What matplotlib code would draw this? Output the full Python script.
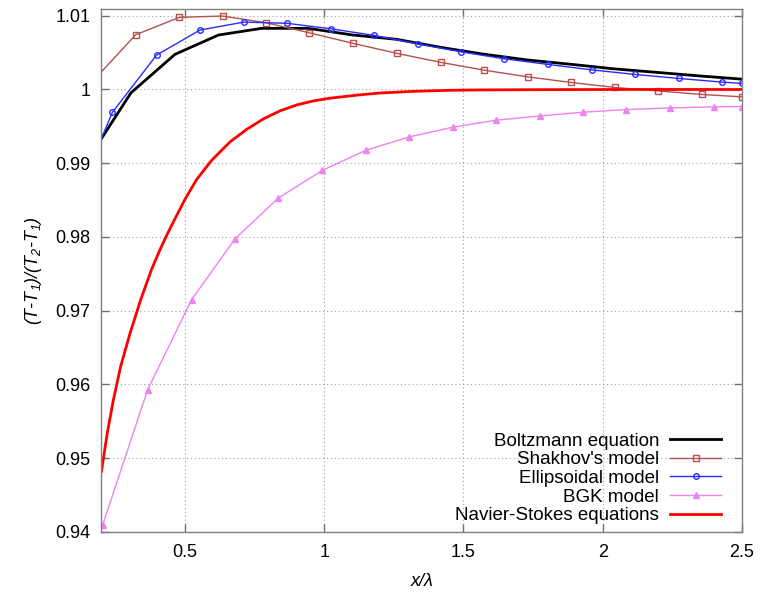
import numpy as np
import matplotlib
matplotlib.use("Agg")
import matplotlib.pyplot as plt
from matplotlib.ticker import FuncFormatter

plt.rcParams['font.family'] = ['Liberation Sans', 'DejaVu Sans']
plt.rcParams['mathtext.fontset'] = 'custom'
plt.rcParams['mathtext.rm'] = 'Liberation Sans:italic'
plt.rcParams['mathtext.it'] = 'Liberation Sans:italic'

# data
boltz_x = [0.2, 0.306, 0.464, 0.62, 0.775, 0.943, 1.1, 1.26, 1.42, 1.57, 1.73, 1.89, 2.04, 2.2, 2.36, 2.5]
boltz_y = [0.99334, 0.99954, 1.00476, 1.00738, 1.00829, 1.00829, 1.0074, 1.0068, 1.0057, 1.0048,
           1.0040, 1.0034, 1.0028, 1.0023, 1.0018, 1.0014]

shak_x = [0.2, 0.323, 0.48, 0.635, 0.791, 0.946, 1.104, 1.262, 1.419, 1.574, 1.73, 1.887, 2.043,
          2.199, 2.356, 2.5]
shak_y = [1.00239, 1.00742, 1.00978, 1.00996, 1.00905, 1.00769, 1.00625, 1.00489, 1.00367, 1.00262,
          1.00171, 1.00095, 1.00027, 0.99981, 0.99932, 0.9990]

ell_x = [0.2, 0.239, 0.398, 0.554, 0.712, 0.867, 1.024, 1.178, 1.335, 1.491, 1.646, 1.803, 1.96,
         2.115, 2.272, 2.429, 2.5]
ell_y = [0.99334, 0.99688, 1.00466, 1.00806, 1.00914, 1.00897, 1.00823, 1.00734, 1.0062, 1.00511,
         1.00416, 1.0034, 1.00266, 1.00204, 1.0015, 1.0010, 1.00082]

bgk_x = [0.205, 0.366, 0.524, 0.68, 0.835, 0.993, 1.149, 1.304, 1.461, 1.616, 1.774, 1.93, 2.085,
         2.241, 2.398, 2.5]
bgk_y = [0.9410, 0.95928, 0.97151, 0.97976, 0.98527, 0.98903, 0.99175, 0.99356, 0.99488, 0.99583,
         0.99641, 0.99692, 0.99728, 0.9975, 0.99764, 0.99769]

ns_x = [0.2, 0.221, 0.243, 0.269, 0.303, 0.341, 0.38, 0.41, 0.434, 0.47, 0.5, 0.542, 0.596,
        0.638, 0.662, 0.722, 0.781, 0.841, 0.901, 0.961, 1.02, 1.122, 1.2, 1.32, 1.44, 1.56,
        1.8, 2.1, 2.5]
ns_y = [0.94818, 0.95339, 0.95791, 0.96243, 0.96696, 0.97148, 0.9756, 0.97825, 0.9802, 0.9829,
        0.9851, 0.9878, 0.9904, 0.9920, 0.9929, 0.9946, 0.9960, 0.9971, 0.9979, 0.99845,
        0.99882, 0.99925, 0.99952, 0.99975, 0.99988, 0.99994, 0.99998, 1.0, 1.0]

fig = plt.figure(figsize=(7.63, 5.97), dpi=100)
ax = fig.add_axes([0.1329, 0.1089, 0.8396, 0.8755])

ax.plot(boltz_x, boltz_y, color='black', lw=2.0, label='Boltzmann equation')
ax.plot(shak_x, shak_y, color='#b5504e', lw=1, marker='s', ms=4, mfc='none', mew=1,
        markevery=slice(1, None), label="Shakhov's model")
ax.plot(ell_x, ell_y, color='#2a2aff', lw=1, marker='o', ms=4, mfc='none', mew=1,
        markevery=slice(1, None), label='Ellipsoidal model')
ax.plot(bgk_x, bgk_y, color='#ee82ee', lw=1, marker='^', ms=4,
        label='BGK model')
ax.plot(ns_x, ns_y, color='#ff0000', lw=2.0, label='Navier-Stokes equations')

ax.set_xlim(0.2, 2.5)
ax.set_ylim(0.94, 1.01087)
ax.set_xticks([0.5, 1, 1.5, 2, 2.5])
ax.set_yticks([0.94, 0.95, 0.96, 0.97, 0.98, 0.99, 1.0, 1.01])
fmt = FuncFormatter(lambda v, p: '%g' % round(v, 4))
ax.xaxis.set_major_formatter(fmt)
ax.yaxis.set_major_formatter(fmt)

ax.tick_params(direction='in', top=True, right=True, length=6, width=1, color='#707070',
               labelsize=13, labelcolor='black')
ax.tick_params(axis='x', pad=9)
ax.tick_params(axis='y', pad=8)
for s in ax.spines.values():
    s.set_color('#808080')
    s.set_linewidth(1)

ax.grid(True, color='#a0a0a0', lw=0.8, linestyle=(0, (1, 2.5)))

ax.set_xlabel(r'x/λ', fontsize=13, fontstyle='italic', labelpad=8)
ax.set_ylabel(r'(T-T$_1$)/(T$_2$-T$_1$)', fontsize=13, fontstyle='italic', labelpad=8)

ax.legend(loc='lower right', bbox_to_anchor=(0.967, 0.015), frameon=False, markerfirst=False,
          fontsize=13.5, handlelength=2.7, handletextpad=0.6, labelspacing=0.08,
          borderaxespad=0, borderpad=0, numpoints=1)

fig.savefig('out.png', dpi=100)
